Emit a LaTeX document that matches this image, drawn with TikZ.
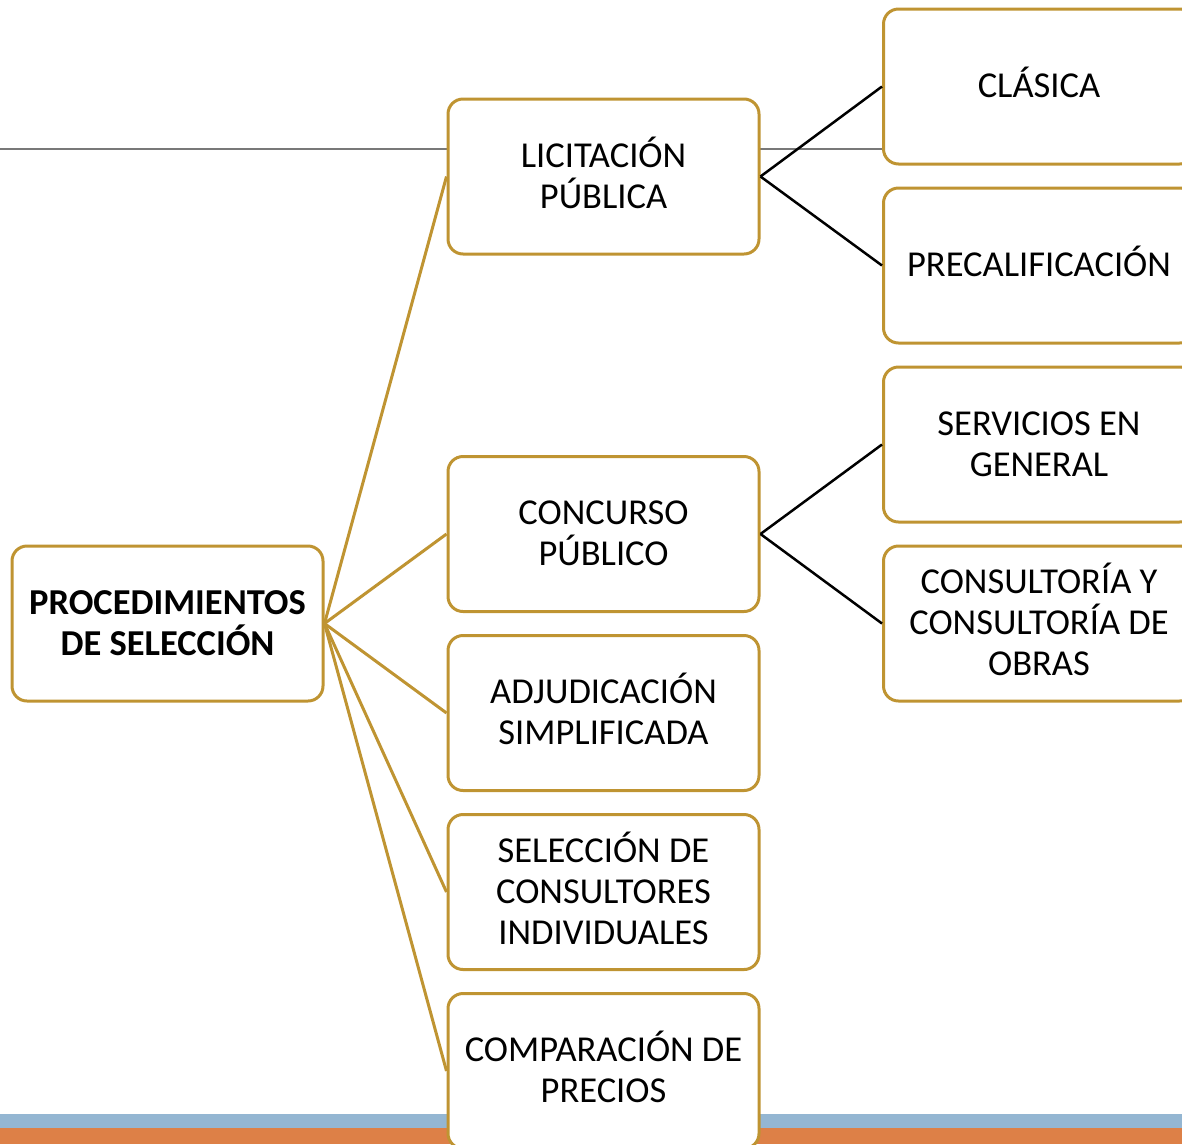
\documentclass[tikz,border=0pt]{standalone}
\usepackage{fontspec}
\setmainfont{Carlito}
\definecolor{gold}{RGB}{191,148,50}
\definecolor{barblue}{RGB}{148,182,210}
\definecolor{barorange}{RGB}{221,128,71}
\definecolor{rulegray}{RGB}{120,120,120}
\begin{document}
\begin{tikzpicture}[x=1pt,y=-1pt,
  box/.style={draw=gold,line width=3pt,fill=white,rounded corners=15pt,
    minimum width=311pt,minimum height=155pt,inner sep=0pt},
  txt/.style={inner sep=0pt,align=center,yshift=4pt,
    font=\fontsize{36.5}{41}\selectfont},
  goldlink/.style={draw=gold,line width=3pt},
  blacklink/.style={draw=black,line width=2.5pt}]
\useasboundingbox (0,0) rectangle (1182,1144);
\clip (0,0) rectangle (1182,1144);
% slide decorations
\draw[rulegray,line width=1.3pt] (0,149) -- (1182,149);
\fill[barblue] (0,1114) rectangle (1182,1128);
\fill[barorange] (0,1128) rectangle (1182,1144);
% boxes
\node[box] (root) at (167.5,623.5) {};
\node[box] (lic) at (603.5,176.5) {};
\node[box] (con) at (603.5,534) {};
\node[box] (adj) at (603.5,713) {};
\node[box] (sel) at (603.5,892) {};
\node[box] (com) at (603.5,1071) {};
\node[box] (cla) at (1039,86.5) {};
\node[box] (pre) at (1039,265.5) {};
\node[box] (ser) at (1039,444.5) {};
\node[box] (cons) at (1039,623.5) {};
% texts
\node[txt,font=\fontsize{36.5}{41}\selectfont\bfseries] (roott) at (root) {\vphantom{Ó}PROCEDIMIENTOS\\DE SELECCIÓN};
\node[txt] (lict) at (lic) {\vphantom{Ó}LICITACIÓN\\PÚBLICA};
\node[txt] (cont) at (con) {\vphantom{Ó}CONCURSO\\PÚBLICO};
\node[txt] (adjt) at (adj) {\vphantom{Ó}ADJUDICACIÓN\\SIMPLIFICADA};
\node[txt] (selt) at (sel) {\vphantom{Ó}SELECCIÓN DE\\CONSULTORES\\INDIVIDUALES};
\node[txt] (comt) at (com) {\vphantom{Ó}COMPARACIÓN DE\\PRECIOS};
\node[txt] (clat) at (cla) {\vphantom{Ó}CLÁSICA};
\node[txt] (pret) at (pre) {\vphantom{Ó}PRECALIFICACIÓN};
\node[txt] (sert) at (ser) {\vphantom{Ó}SERVICIOS EN\\GENERAL};
\node[txt] (const) at (cons) {\vphantom{Ó}CONSULTORÍA Y\\CONSULTORÍA DE\\OBRAS};
% connectors
\foreach \t in {lic,con,adj,sel,com}
  \draw[goldlink] (root.east) -- (\t.west);
\draw[blacklink] (lic.east) -- (cla.west);
\draw[blacklink] (lic.east) -- (pre.west);
\draw[blacklink] (con.east) -- (ser.west);
\draw[blacklink] (con.east) -- (cons.west);
\end{tikzpicture}
\end{document}
